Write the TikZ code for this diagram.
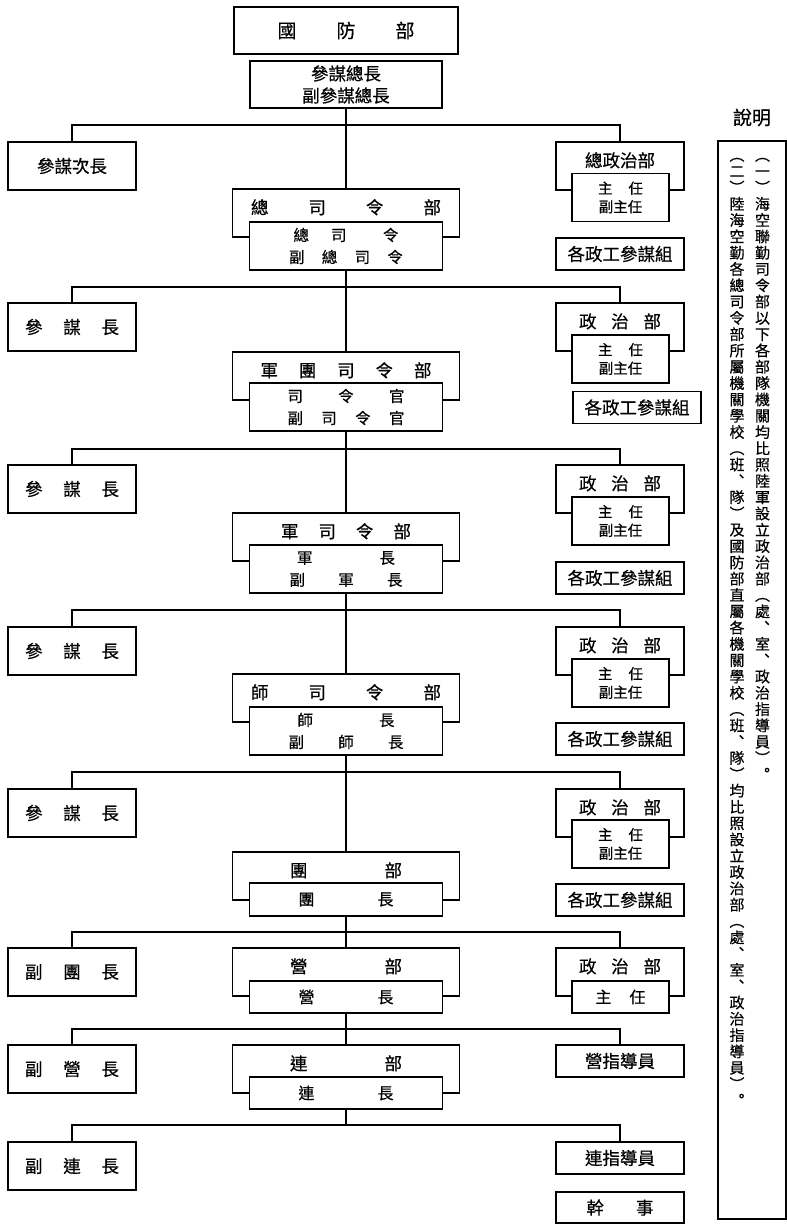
\documentclass[tikz,border=0pt]{standalone}
\usepackage{fontspec}
\setmainfont{Noto Sans CJK TC}[FakeBold=0.5]
\makeatletter
\newcommand{\spreadtext}[2]{\makebox[#1pt][s]{#2}}
\newcommand{\vertcol}[1]{\def\vc@sep{}\@tfor\vc@ch:=#1\do{\vc@sep\vphantom{國}\vc@ch\def\vc@sep{\\}}}
\makeatother

\begin{document}
\begin{tikzpicture}[
    x=1pt,y=-1pt,
    node font=\fontsize{17.5}{22}\selectfont,
    box/.style={draw,line width=1.4pt,fill=white,inner sep=0pt,align=center},
    side/.style={box,minimum width=128pt,minimum height=48pt},
    staff/.style={box,minimum width=128pt,minimum height=32pt},
    hq/.style={box,minimum width=227pt,text height=25pt,text depth=23pt},
    chief/.style={box,minimum width=193pt,minimum height=48pt,font=\fontsize{15.5}{22}\selectfont},
    pol/.style={box,minimum width=128pt,text height=25pt,text depth=23pt},
    polhead/.style={box,minimum width=97pt,minimum height=48pt,font=\fontsize{14.5}{18.5}\selectfont},
    col/.style={inner sep=0pt,text width=18pt,align=center,anchor=north,font=\fontsize{15}{16.3}\selectfont},
    link/.style={line width=1.2pt}
]
\useasboundingbox (0,0) rectangle (787,1224);

\node[box,minimum width=224pt,minimum height=47pt,font=\fontsize{19}{22}\selectfont] (mnd) at (346,30.5) {\spreadtext{137}{國\hfill 防\hfill 部}};
\node[box,minimum width=192pt,minimum height=47pt] (cgs) at (346,84.5) {參謀總長\\副參謀總長};

\coordinate (brA) at (346,125);
\node[side] (dcgs) at (72,166) {參謀次長};
\node[pol] (gpw) at (620,166) {總政治部};
\node[polhead] (gpwdir) at (620.5,197.5) {\spreadtext{45}{主\hfill 任}\\副主任};
\node[staff] (gpwstaff) at (620,254) {各政工參謀組};
\node[hq] (zsl) at (346,213) {\spreadtext{190}{總\hfill 司\hfill 令\hfill 部}};
\node[chief] (zsldir) at (346,246) {\spreadtext{105}{總\hspace{22pt}司\hfill 令}\\\spreadtext{114}{副\hfill 總\hfill 司\hfill 令}};

\coordinate (brB) at (346,287);
\node[side] (csB) at (72,327) {\spreadtext{94}{參\hfill 謀\hfill 長}};
\node[pol] (polB) at (620,327) {\spreadtext{82}{政\hfill 治\hfill 部}};
\node[polhead] (polBdir) at (620.5,359) {\spreadtext{45}{主\hfill 任}\\副主任};
\node[staff] (staffB) at (637,407.5) {各政工參謀組};
\node[hq] (jt) at (346,376) {\spreadtext{171}{軍\hfill 團\hfill 司\hfill 令\hfill 部}};
\node[chief] (jtdir) at (346,407) {\spreadtext{117}{司\hfill 令\hfill 官}\\\spreadtext{117}{副\hfill 司\hfill 令\hfill 官}};

\coordinate (brC) at (346,449);
\node[side] (csC) at (72,489) {\spreadtext{94}{參\hfill 謀\hfill 長}};
\node[pol] (polC) at (620,489) {\spreadtext{82}{政\hfill 治\hfill 部}};
\node[polhead] (polCdir) at (620.5,521) {\spreadtext{45}{主\hfill 任}\\副主任};
\node[staff] (staffC) at (620,578) {各政工參謀組};
\node[hq] (jun) at (346,537) {\spreadtext{130}{軍\hfill 司\hfill 令\hfill 部}};
\node[chief] (jundir) at (346,569) {\spreadtext{98}{軍\hfill 長}\\\spreadtext{113}{副\hfill 軍\hfill 長}};

\coordinate (brD) at (346,610);
\node[side] (csD) at (72,651) {\spreadtext{94}{參\hfill 謀\hfill 長}};
\node[pol] (polD) at (620,651) {\spreadtext{82}{政\hfill 治\hfill 部}};
\node[polhead] (polDdir) at (620.5,683) {\spreadtext{45}{主\hfill 任}\\副主任};
\node[staff] (staffD) at (620,739) {各政工參謀組};
\node[hq] (shi) at (346,698) {\spreadtext{190}{師\hfill 司\hfill 令\hfill 部}};
\node[chief] (shidir) at (346,731) {\spreadtext{97}{師\hfill 長}\\\spreadtext{115}{副\hfill 師\hfill 長}};

\coordinate (brE) at (346,772);
\node[side] (csE) at (72,813) {\spreadtext{94}{參\hfill 謀\hfill 長}};
\node[pol] (polE) at (620,813) {\spreadtext{82}{政\hfill 治\hfill 部}};
\node[polhead] (polEdir) at (620.5,844) {\spreadtext{45}{主\hfill 任}\\副主任};
\node[staff] (staffE) at (620,900) {各政工參謀組};
\node[hq] (tuan) at (346,876) {\spreadtext{112}{團\hfill 部}};
\node[chief,minimum height=33pt,font=\fontsize{16}{22}\selectfont] (tuandir) at (346,899.5) {\spreadtext{95}{團\hfill 長}};

\coordinate (brF) at (346,932);
\node[side] (dtuan) at (72,972) {\spreadtext{94}{副\hfill 團\hfill 長}};
\node[pol] (polF) at (620,972) {\spreadtext{82}{政\hfill 治\hfill 部}};
\node[polhead,minimum height=32pt,font=\fontsize{16}{22}\selectfont] (polFdir) at (620.5,997) {\spreadtext{50}{主\hfill 任}};
\node[hq] (ying) at (346,972) {\spreadtext{112}{營\hfill 部}};
\node[chief,minimum height=32pt,font=\fontsize{16}{22}\selectfont] (yingdir) at (346,997) {\spreadtext{95}{營\hfill 長}};

\coordinate (brG) at (346,1029);
\node[side] (dying) at (72,1069) {\spreadtext{94}{副\hfill 營\hfill 長}};
\node[staff] (yingzd) at (620,1061) {營指導員};
\node[hq] (lian) at (346,1069) {\spreadtext{112}{連\hfill 部}};
\node[chief,minimum height=32pt,font=\fontsize{16}{22}\selectfont] (liandir) at (346,1093) {\spreadtext{95}{連\hfill 長}};

\coordinate (brH) at (346,1125);
\node[side] (dlian) at (72,1166) {\spreadtext{94}{副\hfill 連\hfill 長}};
\node[staff] (lianzd) at (620,1158) {連指導員};
\node[staff,minimum height=31pt] (ganshi) at (620,1207.5) {\spreadtext{67}{幹\hfill 事}};

\draw[link] (cgs.south) -- (zsl.north);
\draw[link] (dcgs.north) |- (brA) -| (gpw.north);
\draw[link] (zsldir.south) -- (jt.north);
\draw[link] (csB.north) |- (brB) -| (polB.north);
\draw[link] (jtdir.south) -- (jun.north);
\draw[link] (csC.north) |- (brC) -| (polC.north);
\draw[link] (jundir.south) -- (shi.north);
\draw[link] (csD.north) |- (brD) -| (polD.north);
\draw[link] (shidir.south) -- (tuan.north);
\draw[link] (csE.north) |- (brE) -| (polE.north);
\draw[link] (tuandir.south) -- (ying.north);
\draw[link] (dtuan.north) |- (brF) -| (polF.north);
\draw[link] (yingdir.south) -- (lian.north);
\draw[link] (dying.north) |- (brG) -| (yingzd.north);
\draw[link] (liandir.south) -- (brH);
\draw[link] (dlian.north) |- (brH) -| (lianzd.north);

\node[font=\fontsize{19}{22}\selectfont] (notetitle) at (752,117.5) {說明};
\node[draw,line width=1.4pt,inner sep=0pt,minimum width=68pt,minimum height=1078pt] (note) at (752,680) {};
\node[col] (note1) at (762.5,148.5) {\vertcol{︵一︶海空聯勤司令部以下各部隊機關均比照陸軍設立政治部︵處︑室︑政治指導員︶︒}};
\node[col] (note2) at (737,148.5) {\vertcol{︵二︶陸海空勤各總司令部所屬機關學校︵班︑隊︶及國防部直屬各機關學校︵班︑隊︶均比照設立政治部︵處︑室︑政治指導員︶︒}};
\end{tikzpicture}
\end{document}
